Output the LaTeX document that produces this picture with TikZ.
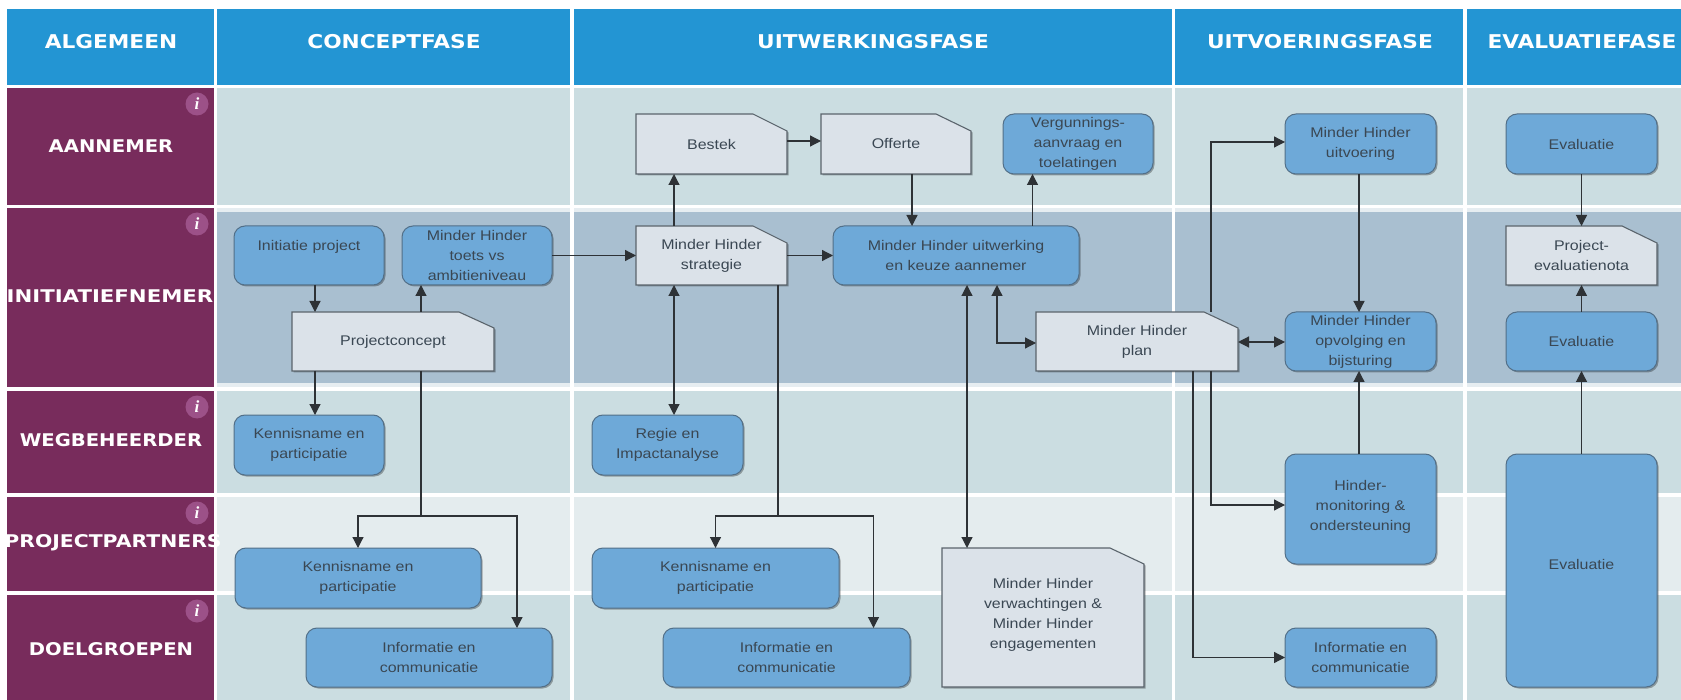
\documentclass[tikz,border=0pt]{standalone}
\usepackage{fontspec}
\setmainfont{Liberation Sans}
\newfontfamily\bodyfont[FakeStretch=1.14]{Liberation Sans}
\newfontfamily\headfont[FakeStretch=1.14]{DejaVu Sans}
\newfontfamily\rowfont[FakeStretch=1.12]{DejaVu Sans}
\newfontfamily\rowfontwide[FakeStretch=1.215]{DejaVu Sans}
\newfontfamily\rowfontmid[FakeStretch=1.165]{DejaVu Sans}
\newfontfamily\infofont{Liberation Serif}
\usetikzlibrary{arrows.meta,shadows,calc}
\definecolor{headblue}{HTML}{2395D3}
\definecolor{rowpurple}{HTML}{782C5C}
\definecolor{celllight}{HTML}{CBDDE1}
\definecolor{celldark}{HTML}{A9BFD0}
\definecolor{cellpale}{HTML}{E4ECEE}
\definecolor{cellband}{HTML}{E6EDF1}
\definecolor{boxblue}{HTML}{6EA9D8}
\definecolor{boxline}{HTML}{526F88}
\definecolor{docfill}{HTML}{DBE2E9}
\definecolor{docline}{HTML}{5A646C}
\definecolor{inktext}{HTML}{3A4753}
\definecolor{wire}{HTML}{2E3236}
\definecolor{infoback}{HTML}{9C5188}
\tikzset{
  softshadow/.style={drop shadow={shadow xshift=1.5pt,shadow yshift=-1.5pt,opacity=.3,fill=black}},
  rboxstyle/.style={draw=boxline,fill=boxblue,line width=1pt,rounded corners=11pt,softshadow,inner sep=0pt,outer sep=0pt,align=center,text=inktext,font=\bodyfont\fontsize{14}{20}\selectfont},
  dshape/.style={draw=docline,fill=docfill,line width=1.1pt,softshadow},
  dtext/.style={inner sep=0pt,outer sep=0pt,align=center,text=inktext,font=\bodyfont\fontsize{14}{20}\selectfont},
  headlabel/.style={text=white,font=\headfont\bfseries\fontsize{19}{22}\selectfont,inner sep=0pt},
  rowlabel/.style={text=white,font=\rowfont\bfseries\fontsize{17.5}{20}\selectfont,inner sep=0pt},
  rowlabelwide/.style={rowlabel,font=\rowfontwide\bfseries\fontsize{17.5}{20}\selectfont},
  rowlabelmid/.style={rowlabel,font=\rowfontmid\bfseries\fontsize{17.5}{20}\selectfont},
  infomark/.style={circle,fill=infoback,minimum size=23pt,inner sep=0pt,text=white,font=\infofont\itshape\bfseries\fontsize{17}{17}\selectfont},
  wireline/.style={draw=wire,line width=1.2pt},
  arr/.style={wireline,-{Triangle[length=11pt,width=11pt]}},
  arrboth/.style={wireline,{Triangle[length=11pt,width=11pt]}-{Triangle[length=11pt,width=11pt]}},
}
\newcommand\cellrect[5]{\fill[#5] (#1,#2) rectangle (#3,#4);}
\newcommand\rbox[6]{%
  \pgfmathsetmacro\cx{(#2+#4)/2}\pgfmathsetmacro\cy{(#3+#5)/2}%
  \pgfmathsetmacro\ww{#4-#2}\pgfmathsetmacro\hh{#5-#3}%
  \node[rboxstyle,minimum width=\ww pt,minimum height=\hh pt] (#1) at (\cx,\cy) {#6};}
\newcommand\dbox[8]{%
  \pgfmathsetmacro\cx{(#2+#4)/2}\pgfmathsetmacro\cy{(#3+#5)/2}%
  \pgfmathsetmacro\ww{#4-#2}\pgfmathsetmacro\hh{#5-#3}%
  \draw[dshape] (#2,#3) -- (#6,#3) -- (#4,#7) -- (#4,#5) -- (#2,#5) -- cycle;
  \node[dtext,minimum width=\ww pt,minimum height=\hh pt] (#1) at (\cx,\cy) {#8};}
\begin{document}
\begin{tikzpicture}[x=1pt,y=-1pt]
\useasboundingbox (0,0) rectangle (1681,700);
\fill[white] (0,0) rectangle (1681,700);
% header band
\cellrect{6.5}{9}{213.5}{85}{headblue}
\cellrect{217}{9}{570}{85}{headblue}
\cellrect{574}{9}{1171.5}{85}{headblue}
\cellrect{1175}{9}{1463}{85}{headblue}
\cellrect{1466.5}{9}{1681}{85}{headblue}
% row heads
\cellrect{6.5}{88}{213.5}{205}{rowpurple}
\cellrect{6.5}{208}{213.5}{387}{rowpurple}
\cellrect{6.5}{391}{213.5}{493}{rowpurple}
\cellrect{6.5}{497}{213.5}{591}{rowpurple}
\cellrect{6.5}{595}{213.5}{700}{rowpurple}
% cells
\foreach \xa/\xb in {217/570,574/1171.5,1175/1463,1466.5/1681}{
  \cellrect{\xa}{88}{\xb}{205}{celllight}
  \cellrect{\xa}{208}{\xb}{387}{cellband}
  \cellrect{\xa}{212}{\xb}{383}{celldark}
  \cellrect{\xa}{391}{\xb}{493}{celllight}
  \cellrect{\xa}{497}{\xb}{591}{cellpale}
  \cellrect{\xa}{595}{\xb}{700}{celllight}
}
% header text
\node[headlabel] (hAlg) at (111,42) {ALGEMEEN};
\node[headlabel] (hCon) at (394,42) {CONCEPTFASE};
\node[headlabel] (hUitw) at (873,42) {UITWERKINGSFASE};
\node[headlabel] (hUitv) at (1320,42) {UITVOERINGSFASE};
\node[headlabel] (hEva) at (1582,42) {EVALUATIEFASE};
% row text
\node[rowlabel] (rA) at (111,146) {AANNEMER};
\node[rowlabelwide] (rI) at (110,296) {INITIATIEFNEMER};
\node[rowlabel] (rW) at (111,440) {WEGBEHEERDER};
\node[rowlabelmid] (rP) at (113,543) {PROJECTPARTNERS};
\node[rowlabel] (rD) at (111,649) {DOELGROEPEN};
% info marks
\node[infomark] (i1) at (197,104) {i};
\node[infomark] (i2) at (197,224) {i};
\node[infomark] (i3) at (197,407) {i};
\node[infomark] (i4) at (197,513) {i};
\node[infomark] (i5) at (197,611) {i};
% concept phase
\rbox{init}{234}{226}{384}{285}{Initiatie project\\~}
\rbox{toets}{402}{226}{552}{285}{Minder Hinder\\toets vs\\ambitieniveau}
\dbox{pc}{292}{312}{494}{371}{459}{328}{Projectconcept}
\rbox{kw}{234}{415}{384}{475}{Kennisname en\\participatie}
\rbox{kp}{235}{548}{481}{608}{Kennisname en\\participatie}
\rbox{id}{306}{628}{552}{687}{Informatie en\\communicatie}
% elaboration phase
\dbox{bestek}{636}{114}{787}{174}{753}{131}{Bestek}
\dbox{offerte}{821}{114}{971}{174}{936}{131}{Offerte}
\rbox{verg}{1003}{114}{1153}{174}{Vergunnings-\\aanvraag en\\toelatingen}
\dbox{strat}{636}{226}{787}{285}{753}{243}{Minder Hinder\\strategie}
\rbox{uitw}{833}{226}{1079}{285}{Minder Hinder uitwerking\\en keuze aannemer}
\dbox{plan}{1036}{312}{1238}{371}{1204}{328}{Minder Hinder\\plan}
\rbox{regie}{592}{415}{743}{475}{Regie en\\Impactanalyse}
\rbox{kp2}{592}{548}{839}{608}{Kennisname en\\participatie}
\rbox{id2}{663}{628}{910}{687}{Informatie en\\communicatie}
\dbox{verw}{942}{548}{1144}{687}{1110}{564}{Minder Hinder\\verwachtingen \&\\Minder Hinder\\engagementen\\[-11pt]~}
% execution phase
\rbox{uitv}{1285}{114}{1436}{174}{Minder Hinder\\uitvoering}
\rbox{opv}{1285}{312}{1436}{371}{Minder Hinder\\opvolging en\\bijsturing}
\rbox{mon}{1285}{454}{1436}{564}{\\[-14pt]Hinder-\\monitoring \&\\ondersteuning}
\rbox{id3}{1285}{628}{1436}{687}{Informatie en\\communicatie}
% evaluation phase
\rbox{ev1}{1506}{114}{1657}{174}{Evaluatie}
\dbox{nota}{1506}{226}{1657}{285}{1622}{243}{Project-\\evaluatienota}
\rbox{ev2}{1506}{312}{1657}{371}{Evaluatie}
\rbox{ev3}{1506}{454}{1657}{687}{Evaluatie\\[-8pt]~}
% split points
\coordinate (pcsplit) at (421,516);
\coordinate (stratsplit) at (778,516);
% connectors: concept
\draw[arr] ([xshift=6pt]init.south) -- ([xshift=-78pt]pc.north);
\draw[arr] ([xshift=28pt]pc.north) -- ([xshift=-56pt]toets.south);
\draw[arr] ([xshift=-78pt]pc.south) -- ([xshift=6pt]kw.north);
\draw[wireline] ([xshift=28pt]pc.south) -- (pcsplit);
\draw[arr] (pcsplit) -| (kp.north);
\draw[arr] (pcsplit) -| ([xshift=88pt]id.north);
\draw[arr] (toets.east) -- (strat.west);
% connectors: elaboration
\draw[arr] ([xshift=-37.5pt]strat.north) -- ([xshift=-37.5pt]bestek.south);
\draw[arr] ([yshift=3pt]bestek.east) -- ([yshift=3pt]offerte.west);
\draw[arr] ([xshift=16pt]offerte.south) -- ([xshift=-44pt]uitw.north);
\draw[arr] ([xshift=76.5pt]uitw.north) -- ([xshift=-45.5pt]verg.south);
\draw[arr] (strat.east) -- (uitw.west);
\draw[arrboth] ([xshift=-37.5pt]strat.south) -- ([xshift=6.5pt]regie.north);
\draw[wireline] ([xshift=66.5pt]strat.south) -- (stratsplit);
\draw[arr] (stratsplit) -| (kp2.north);
\draw[arr] (stratsplit) -| ([xshift=87pt]id2.north);
\draw[arrboth] ([xshift=11pt]uitw.south) -- ([xshift=-76pt]verw.north);
\draw[arrboth] ([xshift=41pt]uitw.south) |- ([yshift=-1.5pt]plan.west);
% connectors: execution
\draw[arr] ([xshift=74pt]plan.north) |- ([yshift=2pt]uitv.west);
\draw[arrboth] ([yshift=-.5pt]plan.east) -- ([yshift=-.5pt]opv.west);
\draw[arr] ([xshift=-1.5pt]uitv.south) -- ([xshift=-1.5pt]opv.north);
\draw[arr] ([xshift=-1.5pt]mon.north) -- ([xshift=-1.5pt]opv.south);
\draw[arr] ([xshift=74pt]plan.south) |- ([yshift=4pt]mon.west);
\draw[arr] ([xshift=56pt]plan.south) |- (id3.west);
% connectors: evaluation
\draw[arr] (ev1.south) -- (nota.north);
\draw[arr] (ev2.north) -- (nota.south);
\draw[arr] (ev3.north) -- (ev2.south);
\end{tikzpicture}
\end{document}
